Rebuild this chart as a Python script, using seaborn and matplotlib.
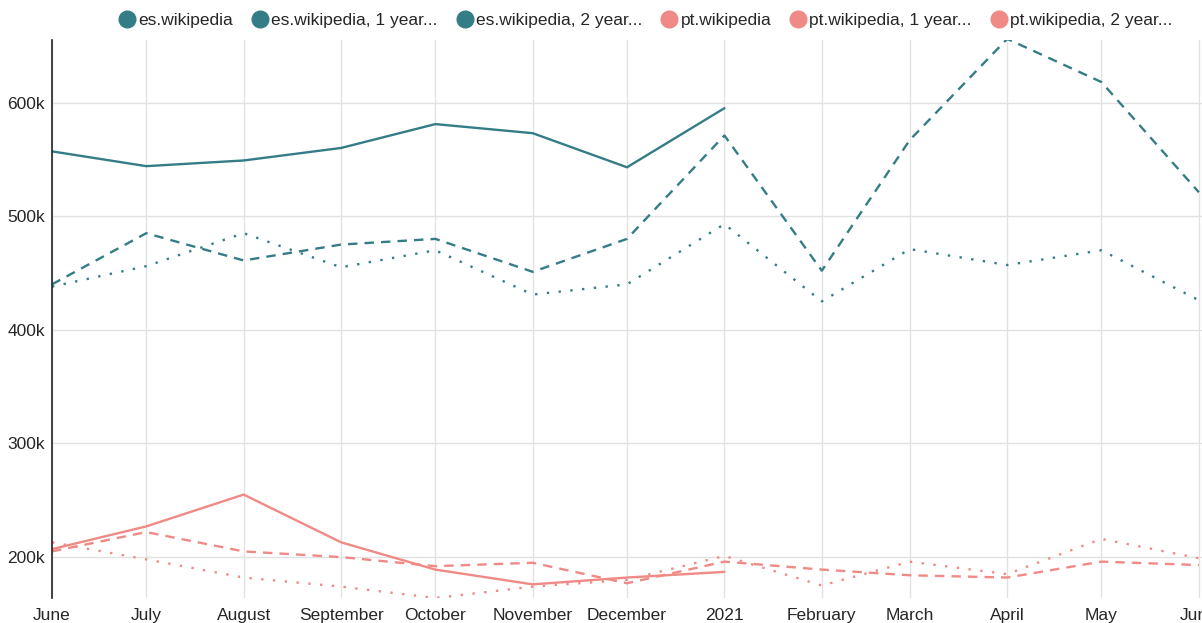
import pandas as pd
import numpy as np
import matplotlib
matplotlib.use('Agg')
import matplotlib.pyplot as plt
from matplotlib.lines import Line2D
import seaborn as sns

# monthly values, June 2020 -> June 2021 (thousands)
months = pd.date_range('2020-06-01', periods=13, freq='MS')
tick_labels = ['June', 'July', 'August', 'September', 'October', 'November',
               'December', '2021', 'February', 'March', 'April', 'May', 'June']

es_now = [557, 544, 549, 560, 581, 573, 543, 595, None, None, None, None, None]
es_1y = [440, 485, 461, 475, 480, 451, 480, 571, 452, 567, 656, 618, 521]
es_2y = [438, 456, 485, 455, 470, 431, 440, 493, 425, 471, 457, 470, 426]
pt_now = [207, 227, 255, 213, 189, 176, 182, 187, None, None, None, None, None]
pt_1y = [205, 222, 205, 200, 192, 195, 177, 196, 189, 184, 182, 196, 193]
pt_2y = [213, 198, 182, 174, 164, 174, 180, 201, 175, 196, 185, 216, 199]

series = {
    ('es.wikipedia', 'current'): es_now,
    ('es.wikipedia', '1 year'): es_1y,
    ('es.wikipedia', '2 years'): es_2y,
    ('pt.wikipedia', 'current'): pt_now,
    ('pt.wikipedia', '1 year'): pt_1y,
    ('pt.wikipedia', '2 years'): pt_2y,
}

rows = []
for (wiki, period), vals in series.items():
    for d, v in zip(months, vals):
        if v is not None:
            rows.append({'month': d, 'wiki': wiki, 'period': period, 'views': v * 1000})
df = pd.DataFrame(rows)

teal = '#347d87'
salmon = '#ef8a86'

sns.set_style('white')
plt.rcParams['font.family'] = ['Liberation Sans', 'DejaVu Sans']

fig = plt.figure(figsize=(12.02, 6.23), dpi=100)
ax = fig.add_axes([52 / 1202, 1 - 598 / 623, 1 - 52 / 1202, 558 / 623])

sns.lineplot(data=df, x='month', y='views', hue='wiki', style='period',
             palette={'es.wikipedia': teal, 'pt.wikipedia': salmon},
             dashes={'current': '', '1 year': (4, 3), '2 years': (1, 4)},
             linewidth=1.7, legend=False, ax=ax)

ax.set_xlim(pd.Timestamp('2020-06-01'), pd.Timestamp('2021-06-02'))
ax.set_ylim(164000, 655000)
ax.set_xticks(months)
ax.set_xticklabels(tick_labels, fontsize=12.5)
ax.set_yticks([200000, 300000, 400000, 500000, 600000])
ax.set_yticklabels(['200k', '300k', '400k', '500k', '600k'], fontsize=12.5)
ax.tick_params(axis='x', length=0, pad=7)
ax.tick_params(axis='y', length=0, pad=5)
ax.set_xlabel('')
ax.set_ylabel('')
ax.grid(True, color='#e2e2e2', linewidth=1)
ax.set_axisbelow(True)
for s in ['top', 'right', 'bottom']:
    ax.spines[s].set_visible(False)
ax.spines['left'].set_color('#222222')
ax.spines['left'].set_linewidth(1.2)

legend_names = ['es.wikipedia', 'es.wikipedia, 1 year...', 'es.wikipedia, 2 year...',
                'pt.wikipedia', 'pt.wikipedia, 1 year...', 'pt.wikipedia, 2 year...']
legend_colors = [teal, teal, teal, salmon, salmon, salmon]
handles = [Line2D([], [], linestyle='none', marker='o', markersize=12,
                  color=c) for c in legend_colors]
fig.legend(handles, legend_names, loc='upper center', bbox_to_anchor=(0.537, 1.005),
           ncol=6, frameon=False, fontsize=12.5, handletextpad=0.15,
           columnspacing=1.05, handlelength=1.0)

fig.savefig('out.png', dpi=100)
